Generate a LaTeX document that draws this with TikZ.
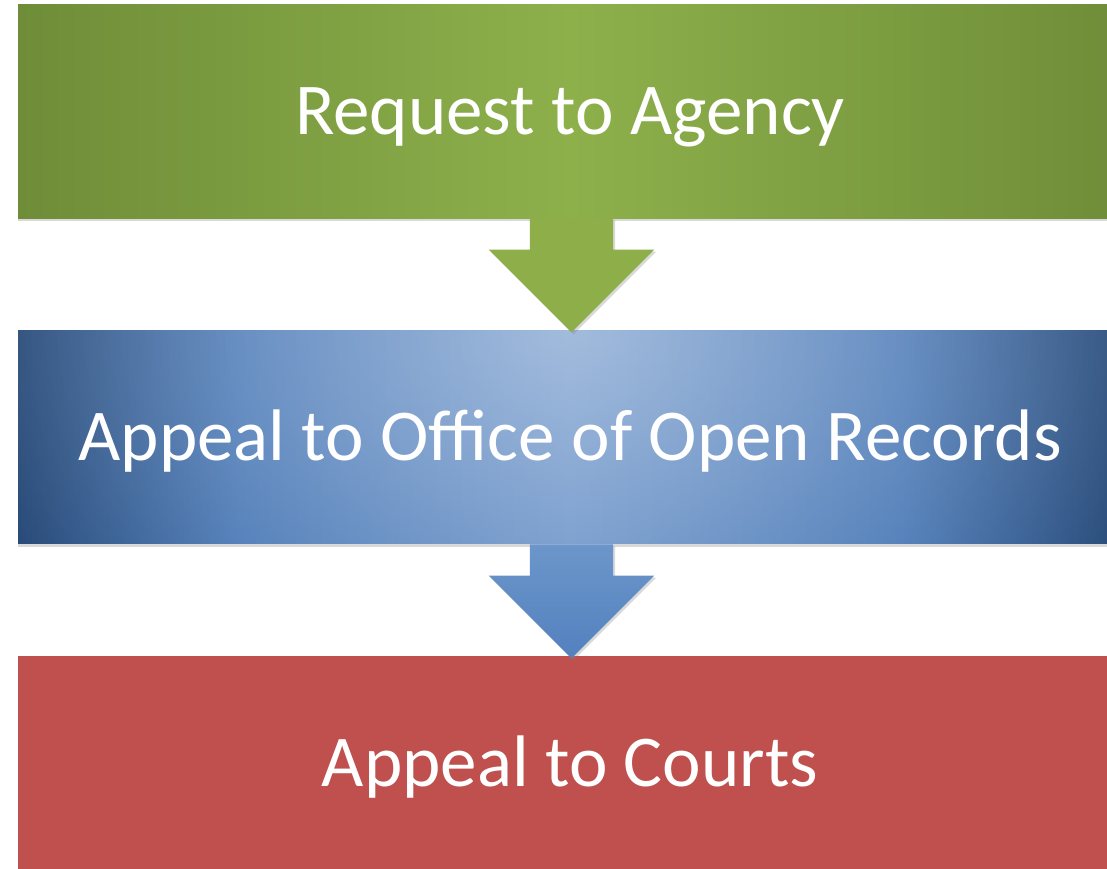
\documentclass[tikz,border=0pt]{standalone}
\usepackage{fontspec}
\setmainfont{Carlito}
\usetikzlibrary{shapes.arrows, positioning, shadows, fadings}

\definecolor{greenedge}{HTML}{6F8D38}
\definecolor{greenmid}{HTML}{8DB04B}
\definecolor{blueedge}{HTML}{1F4373}
\definecolor{bluemid}{HTML}{3A6DB0}
\definecolor{bluecentre}{HTML}{5A87C2}
\definecolor{arrowgreen}{HTML}{8DAE49}
\definecolor{arrowbluetop}{HTML}{6C96CB}
\definecolor{arrowbluebot}{HTML}{5381BE}
\definecolor{courtred}{HTML}{C0504D}

\pgfdeclarehorizontalshading{greenbar}{100bp}{color(0bp)=(greenedge); color(25bp)=(greenedge); color(50bp)=(greenmid); color(75bp)=(greenedge); color(100bp)=(greenedge)}
\pgfdeclarehorizontalshading{bluebar}{100bp}{color(0bp)=(blueedge); color(25bp)=(blueedge); color(35bp)=(bluemid); color(50bp)=(bluecentre); color(65bp)=(bluemid); color(75bp)=(blueedge); color(100bp)=(blueedge)}
\tikzfading[name=glowtop, inner color=transparent!56, outer color=transparent!100]

\tikzset{
    stagebox/.style={rectangle, minimum width=1104pt, minimum height=213.5pt, inner sep=0pt,
        text=white, font=\fontsize{73}{80}\selectfont, text height=46.5pt, text depth=0pt,
        drop shadow={opacity=0.3, shadow xshift=0pt, shadow yshift=-3pt}},
    topglow/.style={path picture={
        \fill[white, path fading=glowtop] ([shift={(-720pt,-440pt)}]path picture bounding box.north)
            rectangle ([shift={(720pt,440pt)}]path picture bounding box.north);}},
    flowarrow/.style={single arrow, shape border rotate=270, minimum width=165pt, minimum height=114pt,
        single arrow head extend=41pt, single arrow tip angle=90, inner xsep=41.5pt, inner ysep=0pt, anchor=tail,
        drop shadow={opacity=0.3, shadow xshift=2pt, shadow yshift=-2pt}}
}

\begin{document}
\begin{tikzpicture}[x=1pt, y=-1pt]
    \useasboundingbox (0,0) rectangle (1107,868);
    % Stufen
    \node[stagebox, shading=greenbar] (request) at (570,111.25) {Request to Agency};
    \node[stagebox, shading=bluebar, topglow, below=112pt of request] (openrec) {Appeal to Office of Open Records};
    \node[stagebox, fill=courtred, below=112pt of openrec] (courts) {Appeal to Courts};
    % Pfeile
    \node[flowarrow, fill=arrowgreen] (arrowa) at ([xshift=1.5pt]request.south) {};
    \node[flowarrow, top color=arrowbluetop, bottom color=arrowbluebot] (arrowb) at ([xshift=1.5pt]openrec.south) {};
\end{tikzpicture}
\end{document}
